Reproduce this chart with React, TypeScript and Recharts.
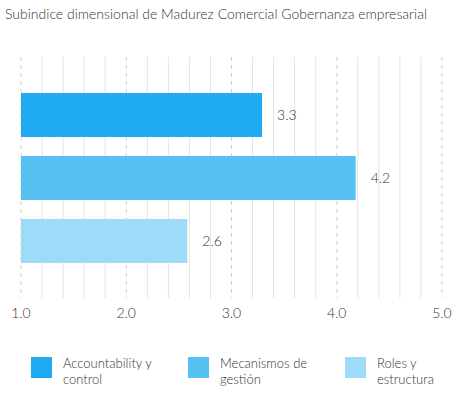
import React from 'react';
import { BarChart, Bar, XAxis, YAxis, CartesianGrid, LabelList } from 'recharts';

const title = 'Subindice dimensional de Madurez Comercial Gobernanza empresarial';
const seriesKeys = ['accountability', 'mecanismos', 'roles'];
const seriesNames = ['Accountability y control', 'Mecanismos de gestión', 'Roles y estructura'];
const legendLines = [
  ['Accountability y', 'control'],
  ['Mecanismos de', 'gestión'],
  ['Roles y', 'estructura'],
];
const seriesValues = [3.29, 4.18, 2.58];
const colors = ['#1FAAF1', '#57C1F3', '#9EDBF8'];
// every 0.2, labels only on whole numbers
const xTicks = [
  1, 1.2, 1.4, 1.6, 1.8, 2, 2.2, 2.4, 2.6, 2.8, 3, 3.2, 3.4, 3.6, 3.8, 4, 4.2, 4.4, 4.6, 4.8, 5,
];

const font = 'Lato, "Open Sans", sans-serif';

const row: Record<string, string | number> = { name: 'Gobernanza empresarial' };
seriesKeys.forEach((k, i) => {
  row[k] = seriesValues[i];
});
const data = [row];

const gridLine = (p: any) => {
  const major = p.index % 5 === 0;
  return (
    <line
      key={p.key}
      x1={p.x1}
      x2={p.x2}
      y1={p.y1}
      y2={p.y2}
      stroke={major ? '#cfcfcf' : '#e3e3e3'}
      strokeWidth={1}
      strokeDasharray={major ? '4 4' : undefined}
    />
  );
};

export default function App() {
  return (
    <div style={{ position: 'absolute', left: 0, top: 0, width: 463, height: 394, background: '#fff', fontFamily: font }}>
      <div style={{ position: 'absolute', left: 5, top: 5, fontSize: 14, fontWeight: 300, color: '#333', whiteSpace: 'nowrap' }}>
        {title}
      </div>
      <BarChart
        width={463}
        height={330}
        data={data}
        layout="vertical"
        margin={{ top: 57, right: 21, left: 21, bottom: 2 }}
        barSize={44}
        barGap={19}
      >
        <CartesianGrid horizontal={false} vertical={gridLine} />
        <XAxis
          type="number"
          domain={[1, 5]}
          ticks={xTicks}
          tickFormatter={(v: number) => (Number.isInteger(v) ? v.toFixed(1) : '')}
          axisLine={false}
          tickLine={false}
          tickSize={0}
          tickMargin={10}
          height={30}
          tick={{ fill: '#333', fontSize: 14, fontFamily: font, fontWeight: 300 }}
          interval={0}
        />
        <YAxis type="category" dataKey="name" hide />
        {seriesKeys.map((k, i) => (
          <Bar key={k} dataKey={k} name={seriesNames[i]} fill={colors[i]} isAnimationActive={false}>
            <LabelList
              dataKey={k}
              position="right"
              offset={15}
              fill="#333"
              formatter={(v: number) => v.toFixed(1)}
              style={{ fill: '#333', fontSize: 14, fontFamily: font, fontWeight: 300 }}
            />
          </Bar>
        ))}
      </BarChart>
      {seriesKeys.map((k, i) => (
        <div key={k} style={{ position: 'absolute', left: 31 + i * 157, top: 357, display: 'flex' }}>
          <div style={{ width: 21, height: 21, background: colors[i] }} />
          <div style={{ marginLeft: 11, marginTop: -2, fontSize: 13, lineHeight: '16px', color: '#333', fontWeight: 300 }}>
            {legendLines[i].map((l) => (
              <div key={l}>{l}</div>
            ))}
          </div>
        </div>
      ))}
    </div>
  );
}
